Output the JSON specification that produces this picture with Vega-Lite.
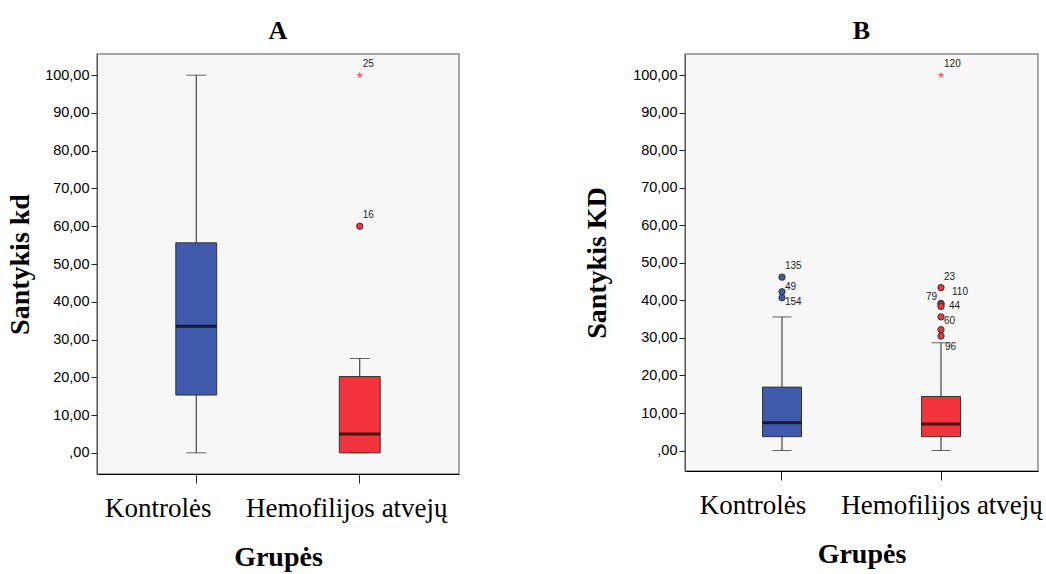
{
  "$schema": "https://vega.github.io/schema/vega-lite/v6.json",
  "background": "white",
  "padding": {"left": 5, "top": 17, "right": 0, "bottom": 0},
  "spacing": 226,
  "bounds": "flush",
  "datasets": {
    "boxes": [
      {"panel": "A", "group": "Kontrolės", "lo": 0, "q1": 15.3, "med": 33.5, "q3": 55.6, "hi": 100},
      {"panel": "A", "group": "Hemofilijos atvejų", "lo": 0, "q1": 0, "med": 5.0, "q3": 20.2, "hi": 25},
      {"panel": "B", "group": "Kontrolės", "lo": 0, "q1": 3.7, "med": 7.4, "q3": 16.9, "hi": 35.6},
      {"panel": "B", "group": "Hemofilijos atvejų", "lo": 0, "q1": 3.7, "med": 7.1, "q3": 14.4, "hi": 28.7}
    ],
    "outliers": [
      {"panel": "A", "group": "Hemofilijos atvejų", "value": 60, "label": "16", "kind": "outlier"},
      {"panel": "A", "group": "Hemofilijos atvejų", "value": 100, "label": "25", "kind": "extreme"},
      {"panel": "B", "group": "Kontrolės", "value": 46.2, "label": "135", "kind": "outlier"},
      {"panel": "B", "group": "Kontrolės", "value": 42.3, "label": "49", "kind": "outlier"},
      {"panel": "B", "group": "Kontrolės", "value": 40.7, "label": "154", "kind": "outlier"},
      {"panel": "B", "group": "Hemofilijos atvejų", "value": 43.4, "label": "23", "kind": "outlier"},
      {"panel": "B", "group": "Hemofilijos atvejų", "value": 39.2, "label": "110", "kind": "outlier"},
      {"panel": "B", "group": "Hemofilijos atvejų", "value": 39.0, "label": "79", "kind": "outlier"},
      {"panel": "B", "group": "Hemofilijos atvejų", "value": 38.4, "label": "44", "kind": "outlier"},
      {"panel": "B", "group": "Hemofilijos atvejų", "value": 35.6, "label": "60", "kind": "outlier"},
      {"panel": "B", "group": "Hemofilijos atvejų", "value": 32.2, "label": "", "kind": "outlier"},
      {"panel": "B", "group": "Hemofilijos atvejų", "value": 30.5, "label": "96", "kind": "outlier"},
      {"panel": "B", "group": "Hemofilijos atvejų", "value": 100, "label": "120", "kind": "extreme"}
    ]
  },
  "config": {
    "view": {"fill": "#f7f7f7", "stroke": "#8a8a8a", "strokeWidth": 1.5},
    "axis": {"grid": false, "domainColor": "#555", "tickColor": "#222", "labelColor": "#000", "titleColor": "#000"},
    "axisY": {"labelFont": "Liberation Sans", "labelFontSize": 14.5, "tickSize": 6, "labelPadding": 2, "titleFont": "Liberation Serif", "titleFontSize": 28, "titleFontWeight": "bold", "minExtent": 50, "maxExtent": 50},
    "axisX": {"labelFont": "Liberation Serif", "labelFontSize": 27, "labelAngle": 0, "labelLimit": 0, "tickSize": 9, "labelPadding": 12, "titleFont": "Liberation Serif", "titleFontSize": 28, "titleFontWeight": "bold", "titlePadding": 22, "bandPosition": 0.5, "domainColor": "#000"},
    "title": {"font": "Liberation Serif", "fontSize": 26, "fontWeight": "bold", "color": "#000", "offset": 10, "anchor": "middle"}
  },
  "hconcat": [
    {
      "title": "A",
      "width": 362,
      "height": 420,
      "data": {"name": "boxes"},
      "transform": [{"filter": "datum.panel == 'A'"}],
      "encoding": {
        "x": {"field": "group", "type": "nominal", "title": "Grupės",
              "scale": {"domain": ["Kontrolės", "Hemofilijos atvejų"], "paddingInner": 0, "paddingOuter": 0.107},
              "axis": {"labelOffset": {"condition": {"test": "datum.label == 'Kontrolės'", "value": -38}, "value": -13}}}
      },
      "layer": [
        {"mark": {"type": "rule", "color": "#222", "strokeWidth": 1},
         "encoding": {
           "y": {"field": "lo", "type": "quantitative", "title": "Santykis kd",
                 "scale": {"domain": [-5.6, 105.6], "nice": false, "zero": false},
                 "axis": {"values": [0, 10, 20, 30, 40, 50, 60, 70, 80, 90, 100], "titlePadding": 13,
                          "labelExpr": "datum.value == 0 ? ',00' : replace(format(datum.value, '.2f'), '.', ',')"}},
           "y2": {"field": "hi"}}},
        {"mark": {"type": "tick", "size": 20, "thickness": 1, "color": "#222"},
         "encoding": {"y": {"field": "lo", "type": "quantitative", "title": "Santykis kd"}}},
        {"mark": {"type": "tick", "size": 20, "thickness": 1, "color": "#222"},
         "encoding": {"y": {"field": "hi", "type": "quantitative", "title": "Santykis kd"}}},
        {"mark": {"type": "bar", "width": {"band": 0.25}, "stroke": "#333", "strokeWidth": 1},
         "encoding": {
           "y": {"field": "q1", "type": "quantitative", "title": "Santykis kd"},
           "y2": {"field": "q3"},
           "color": {"field": "group", "type": "nominal", "legend": null,
                     "scale": {"domain": ["Kontrolės", "Hemofilijos atvejų"], "range": ["#3f5aad", "#f2333b"]}}}},
        {"mark": {"type": "tick", "size": 41, "thickness": 3, "color": "#000"},
         "encoding": {"y": {"field": "med", "type": "quantitative", "title": "Santykis kd"}}},
        {"data": {"name": "outliers"},
         "transform": [{"filter": "datum.panel == 'A' && datum.kind == 'outlier'"}],
         "mark": {"type": "point", "shape": "circle", "filled": true, "size": 40, "stroke": "#333", "strokeWidth": 1, "opacity": 1},
         "encoding": {
           "y": {"field": "value", "type": "quantitative", "title": "Santykis kd"},
           "color": {"field": "group", "type": "nominal", "legend": null}}},
        {"data": {"name": "outliers"},
         "transform": [{"filter": "datum.panel == 'A' && datum.kind == 'extreme'"}],
         "mark": {"type": "point", "filled": true, "size": 55, "color": "#f26478", "opacity": 1,
                  "shape": "M0,-1L0.225,-0.309L0.951,-0.309L0.363,0.118L0.588,0.809L0,0.382L-0.588,0.809L-0.363,0.118L-0.951,-0.309L-0.225,-0.309Z"},
         "encoding": {"y": {"field": "value", "type": "quantitative", "title": "Santykis kd"}}},
        {"data": {"name": "outliers"},
         "transform": [{"filter": "datum.panel == 'A'"}],
         "mark": {"type": "text", "font": "Liberation Sans", "fontSize": 10, "color": "#222", "align": "left", "baseline": "middle", "dx": 3, "dy": -11},
         "encoding": {"y": {"field": "value", "type": "quantitative", "title": "Santykis kd"}, "text": {"field": "label"}}}
      ]
    },
    {
      "title": "B",
      "width": 353,
      "height": 417,
      "data": {"name": "boxes"},
      "transform": [{"filter": "datum.panel == 'B'"}],
      "encoding": {
        "x": {"field": "group", "type": "nominal", "title": "Grupės",
              "scale": {"domain": ["Kontrolės", "Hemofilijos atvejų"], "paddingInner": 0, "paddingOuter": 0.11},
              "axis": {"labelOffset": {"condition": {"test": "datum.label == 'Kontrolės'", "value": -29}, "value": 1}}}
      },
      "layer": [
        {"mark": {"type": "rule", "color": "#222", "strokeWidth": 1},
         "encoding": {
           "y": {"field": "lo", "type": "quantitative", "title": "Santykis KD",
                 "scale": {"domain": [-5.45, 105.65], "nice": false, "zero": false},
                 "axis": {"values": [0, 10, 20, 30, 40, 50, 60, 70, 80, 90, 100], "titlePadding": 24,
                          "labelExpr": "datum.value == 0 ? ',00' : replace(format(datum.value, '.2f'), '.', ',')"}},
           "y2": {"field": "hi"}}},
        {"mark": {"type": "tick", "size": 19, "thickness": 1, "color": "#222"},
         "encoding": {"y": {"field": "lo", "type": "quantitative", "title": "Santykis KD"}}},
        {"mark": {"type": "tick", "size": 19, "thickness": 1, "color": "#222"},
         "encoding": {"y": {"field": "hi", "type": "quantitative", "title": "Santykis KD"}}},
        {"mark": {"type": "bar", "width": {"band": 0.245}, "stroke": "#333", "strokeWidth": 1},
         "encoding": {
           "y": {"field": "q1", "type": "quantitative", "title": "Santykis KD"},
           "y2": {"field": "q3"},
           "color": {"field": "group", "type": "nominal", "legend": null,
                     "scale": {"domain": ["Kontrolės", "Hemofilijos atvejų"], "range": ["#3f5aad", "#f2333b"]}}}},
        {"mark": {"type": "tick", "size": 39, "thickness": 3, "color": "#000"},
         "encoding": {"y": {"field": "med", "type": "quantitative", "title": "Santykis KD"}}},
        {"data": {"name": "outliers"},
         "transform": [{"filter": "datum.panel == 'B' && datum.kind == 'outlier'"}],
         "mark": {"type": "point", "shape": "circle", "filled": true, "size": 40, "stroke": "#333", "strokeWidth": 1, "opacity": 1},
         "encoding": {
           "y": {"field": "value", "type": "quantitative", "title": "Santykis KD"},
           "color": {"field": "group", "type": "nominal", "legend": null}}},
        {"data": {"name": "outliers"},
         "transform": [{"filter": "datum.panel == 'B' && datum.kind == 'extreme'"}],
         "mark": {"type": "point", "filled": true, "size": 55, "color": "#f26478", "opacity": 1,
                  "shape": "M0,-1L0.225,-0.309L0.951,-0.309L0.363,0.118L0.588,0.809L0,0.382L-0.588,0.809L-0.363,0.118L-0.951,-0.309L-0.225,-0.309Z"},
         "encoding": {"y": {"field": "value", "type": "quantitative", "title": "Santykis KD"}}},
        {"data": {"name": "outliers"},
         "transform": [{"filter": "datum.panel == 'B' && indexof(['135', '23', '120'], datum.label) >= 0"}],
         "mark": {"type": "text", "font": "Liberation Sans", "fontSize": 10, "color": "#222", "align": "left", "baseline": "middle", "dx": 3, "dy": -11},
         "encoding": {"y": {"field": "value", "type": "quantitative", "title": "Santykis KD"}, "text": {"field": "label"}}},
        {"data": {"name": "outliers"},
         "transform": [{"filter": "datum.panel == 'B' && datum.label == '49'"}],
         "mark": {"type": "text", "font": "Liberation Sans", "fontSize": 10, "color": "#222", "align": "left", "baseline": "middle", "dx": 3, "dy": -5},
         "encoding": {"y": {"field": "value", "type": "quantitative", "title": "Santykis KD"}, "text": {"field": "label"}}},
        {"data": {"name": "outliers"},
         "transform": [{"filter": "datum.panel == 'B' && indexof(['154', '60'], datum.label) >= 0"}],
         "mark": {"type": "text", "font": "Liberation Sans", "fontSize": 10, "color": "#222", "align": "left", "baseline": "middle", "dx": 3, "dy": 4},
         "encoding": {"y": {"field": "value", "type": "quantitative", "title": "Santykis KD"}, "text": {"field": "label"}}},
        {"data": {"name": "outliers"},
         "transform": [{"filter": "datum.panel == 'B' && datum.label == '110'"}],
         "mark": {"type": "text", "font": "Liberation Sans", "fontSize": 10, "color": "#222", "align": "left", "baseline": "middle", "dx": 11, "dy": -11},
         "encoding": {"y": {"field": "value", "type": "quantitative", "title": "Santykis KD"}, "text": {"field": "label"}}},
        {"data": {"name": "outliers"},
         "transform": [{"filter": "datum.panel == 'B' && datum.label == '79'"}],
         "mark": {"type": "text", "font": "Liberation Sans", "fontSize": 10, "color": "#222", "align": "right", "baseline": "middle", "dx": -4, "dy": -7},
         "encoding": {"y": {"field": "value", "type": "quantitative", "title": "Santykis KD"}, "text": {"field": "label"}}},
        {"data": {"name": "outliers"},
         "transform": [{"filter": "datum.panel == 'B' && datum.label == '44'"}],
         "mark": {"type": "text", "font": "Liberation Sans", "fontSize": 10, "color": "#222", "align": "left", "baseline": "middle", "dx": 8, "dy": 0},
         "encoding": {"y": {"field": "value", "type": "quantitative", "title": "Santykis KD"}, "text": {"field": "label"}}},
        {"data": {"name": "outliers"},
         "transform": [{"filter": "datum.panel == 'B' && datum.label == '96'"}],
         "mark": {"type": "text", "font": "Liberation Sans", "fontSize": 10, "color": "#222", "align": "left", "baseline": "middle", "dx": 4, "dy": 11},
         "encoding": {"y": {"field": "value", "type": "quantitative", "title": "Santykis KD"}, "text": {"field": "label"}}}
      ]
    }
  ]
}
